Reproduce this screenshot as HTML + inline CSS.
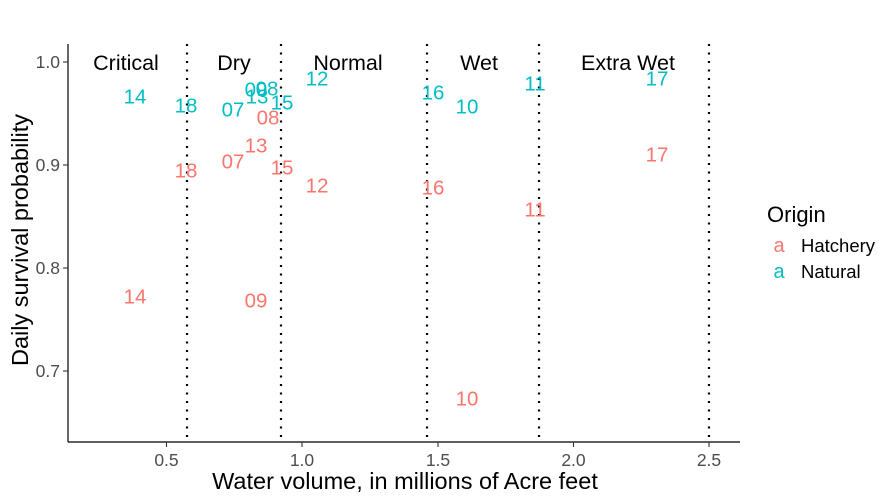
<!DOCTYPE html><html><head><style>body{margin:0;background:#fff}svg{display:block;font-family:"Liberation Sans",sans-serif}</style></head><body>
<svg width="893" height="502" viewBox="0 0 893 502">
<g stroke="#000" stroke-width="2.2" stroke-dasharray="2,6.5">
<line x1="187" y1="44" x2="187" y2="442"/><line x1="281" y1="44" x2="281" y2="442"/><line x1="427" y1="44" x2="427" y2="442"/><line x1="539" y1="44" x2="539" y2="442"/><line x1="709" y1="44" x2="709" y2="442"/></g>
<g font-size="21.5" text-anchor="middle" fill="#000">
<text x="126" y="70">Critical</text><text x="234" y="70">Dry</text><text x="348" y="70">Normal</text><text x="479" y="70">Wet</text><text x="628" y="70">Extra Wet</text></g>
<g font-size="20.5" text-anchor="middle" dominant-baseline="central" fill="#00BFC4">
<text x="135" y="97">14</text><text x="186" y="106">18</text><text x="233" y="110">07</text><text x="256" y="90">09</text><text x="267" y="89">08</text><text x="257" y="97">13</text><text x="282" y="103">15</text><text x="317" y="79">12</text><text x="433" y="93">16</text><text x="467" y="107">10</text><text x="535" y="84">11</text><text x="657" y="79">17</text></g>
<g font-size="20.5" text-anchor="middle" dominant-baseline="central" fill="#F8766D">
<text x="268" y="118">08</text><text x="256" y="146">13</text><text x="233" y="162">07</text><text x="186" y="171">18</text><text x="282" y="168">15</text><text x="317" y="186">12</text><text x="433" y="188">16</text><text x="535" y="210">11</text><text x="657" y="155">17</text><text x="135" y="297">14</text><text x="256" y="301">09</text><text x="467" y="399">10</text></g>
<line x1="68" y1="44" x2="68" y2="442" stroke="#000" stroke-width="1.2"/>
<line x1="68" y1="442" x2="740" y2="442" stroke="#000" stroke-width="1.2"/>
<g stroke="#333" stroke-width="1.1"><line x1="63" y1="62" x2="68" y2="62"/><line x1="63" y1="165" x2="68" y2="165"/><line x1="63" y1="268" x2="68" y2="268"/><line x1="63" y1="371" x2="68" y2="371"/>
<line x1="166.5" y1="442" x2="166.5" y2="447"/><line x1="302" y1="442" x2="302" y2="447"/><line x1="438" y1="442" x2="438" y2="447"/><line x1="573.5" y1="442" x2="573.5" y2="447"/><line x1="709" y1="442" x2="709" y2="447"/></g>
<g font-size="17.5" fill="#4d4d4d" text-anchor="end"><text x="60" y="68">1.0</text><text x="60" y="171">0.9</text><text x="60" y="274">0.8</text><text x="60" y="377">0.7</text></g>
<g font-size="17.5" fill="#4d4d4d" text-anchor="middle"><text x="166.5" y="466">0.5</text><text x="302" y="466">1.0</text><text x="438" y="466">1.5</text><text x="573.5" y="466">2.0</text><text x="709" y="466">2.5</text></g>
<text x="405" y="489" font-size="23.5" text-anchor="middle">Water volume, in millions of Acre feet</text>
<text transform="translate(28,240) rotate(-90)" font-size="23.5" text-anchor="middle">Daily survival probability</text>
<text x="767" y="222" font-size="22">Origin</text>
<text x="779" y="252" font-size="20" fill="#F8766D" text-anchor="middle">a</text>
<text x="779" y="278" font-size="20" fill="#00BFC4" text-anchor="middle">a</text>
<text x="801" y="252" font-size="18.5">Hatchery</text>
<text x="801" y="278" font-size="18.5">Natural</text>
</svg></body></html>
